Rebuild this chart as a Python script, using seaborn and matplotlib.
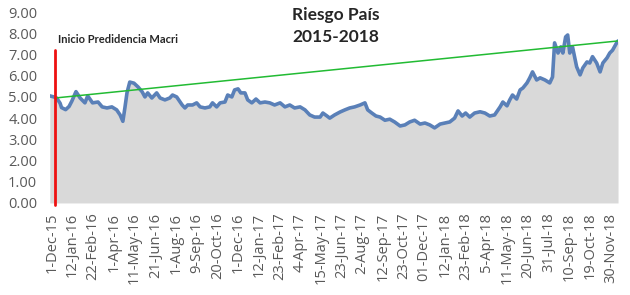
import matplotlib
matplotlib.use("Agg")
import matplotlib.pyplot as plt
import seaborn as sns
import pandas as pd

# Trading-day index and Riesgo País value (thousands of bp)
days = [0, 6, 10, 15, 17, 23, 28, 32, 38, 44, 51, 55, 62, 70, 76, 83, 90, 97, 102, 106,
        109, 112, 116, 122, 128, 134, 138, 142, 148, 155, 160, 167, 174, 178, 184, 192, 196, 200,
        207, 213, 218, 225, 232, 236, 242, 247, 254, 258, 264, 268, 273, 277, 283, 287, 293, 299,
        305, 312, 319, 326, 334, 341, 348, 355, 363, 370, 377, 384, 392, 396, 402, 406, 413, 421,
        428, 435, 442, 450, 457, 461, 467, 473, 479, 486, 493, 500, 508, 515, 522, 529, 537, 544,
        551, 558, 566, 573, 580, 587, 592, 598, 603, 609, 616, 624, 631, 638, 645, 653, 657, 663,
        667, 671, 677, 682, 686, 692, 696, 700, 706, 711, 718, 725, 729, 732, 737, 741, 744, 748,
        751, 754, 758, 764, 769, 773, 779, 783, 787, 793, 798, 802, 808, 812, 816, 822, 824]
values = [5.05, 5.0, 4.95, 4.7, 4.5, 4.4, 4.55, 4.8, 5.25, 4.95, 4.72, 5.05, 4.72, 4.76, 4.53, 4.48,
          4.53, 4.39, 4.15, 3.85, 4.5, 5.2, 5.7, 5.65, 5.47, 5.24, 5.0, 5.19, 4.95, 5.19, 4.95,
          4.86, 4.95, 5.09, 5.0, 4.62, 4.48, 4.62, 4.62, 4.72, 4.53, 4.48, 4.53, 4.72, 4.53, 4.72,
          4.76, 5.09, 5.0, 5.33, 5.38, 5.19, 5.19, 4.86, 4.72, 4.9, 4.72, 4.76, 4.72, 4.62, 4.72,
          4.53, 4.62, 4.48, 4.53, 4.39, 4.15, 4.05, 4.05, 4.24, 4.1, 4.0, 4.15, 4.29, 4.39, 4.48,
          4.53, 4.62, 4.72, 4.39, 4.24, 4.1, 4.05, 3.9, 3.95, 3.82, 3.63, 3.68, 3.82, 3.9, 3.72,
          3.77, 3.68, 3.54, 3.72, 3.77, 3.82, 4.0, 4.34, 4.1, 4.24, 4.05, 4.24, 4.3, 4.24, 4.1,
          4.15, 4.53, 4.76, 4.58, 4.86, 5.09, 4.9, 5.33, 5.42, 5.66, 5.9, 6.18, 5.8, 5.9, 5.8,
          5.66, 5.94, 7.55, 7.07, 7.36, 7.07, 7.83, 7.92, 7.07, 7.36, 6.42, 6.04, 6.37, 6.65, 6.6,
          6.9, 6.6, 6.18, 6.6, 6.84, 7.07, 7.2, 7.55, 7.64]

tick_labels = ["1-Dec-15", "12-Jan-16", "22-Feb-16", "1-Apr-16", "11-May-16", "21-Jun-16",
               "1-Aug-16", "9-Sep-16", "20-Oct-16", "1-Dec-16", "12-Jan-17", "23-Feb-17",
               "4-Apr-17", "15-May-17", "23-Jun-17", "2-Aug-17", "12-Sep-17", "23-Oct-17",
               "01-Dec-17", "12-Jan-18", "23-Feb-18", "5-Apr-18", "11-May-18", "20-Jun-18",
               "31-Jul-18", "10-Sep-18", "19-Oct-18", "30-Nov-18"]
tick_days = [3 + 30 * i for i in range(len(tick_labels))]
y_ticks = [0, 1, 2, 3, 4, 5, 6, 7, 8, 9]

macri_day = 8
macri_top = 7.2
trend_days = [8, 824]
trend_values = [4.95, 7.64]

title = "Riesgo País\n2015-2018"
annot = "Inicio Predidencia Macri"

sns.set_style("white")
plt.rcParams["font.family"] = ["Open Sans", "DejaVu Sans"]

df = pd.DataFrame({"day": days, "value": values})

fig = plt.figure(figsize=(6.3, 2.95), dpi=100)
ax = fig.add_axes([0.079, 0.312, 0.902, 0.647])

ax.fill_between(df["day"], df["value"], 0, color="#d9d9d9", lw=0, zorder=1)
sns.lineplot(data=df, x="day", y="value", ax=ax, color="#5a80b8", lw=2.6, zorder=3)
ax.plot(trend_days, trend_values, color="#22bb33", lw=1.1, zorder=4)
ax.plot([macri_day, macri_day], [-0.1, macri_top], color="#ee1111", lw=2.0, zorder=5,
        clip_on=False)

ax.set_xlim(0, 824)
ax.set_ylim(0, 9)
ax.set_yticks(y_ticks)
ax.set_yticklabels([f"{v:.2f}" for v in y_ticks], fontsize=10.5, color="#595959")
ax.set_xticks(tick_days)
ax.set_xticklabels(tick_labels, rotation=90, fontsize=10.5, color="#595959")
ax.tick_params(axis="y", length=0, pad=9)
ax.tick_params(axis="x", length=0, pad=7)
ax.set_xlabel("")
ax.set_ylabel("")
for s in ax.spines.values():
    s.set_visible(False)

fig.text(0.533, 0.975, title, ha="center", va="top", fontsize=12.5, fontweight="bold",
         linespacing=1.4, family=["Lato", "DejaVu Sans"])
ax.text(macri_day + 4, 7.45, annot, fontsize=8, fontweight="bold", ha="left", va="bottom",
        family=["Lato", "DejaVu Sans"])

fig.savefig("out.png", dpi=100)
